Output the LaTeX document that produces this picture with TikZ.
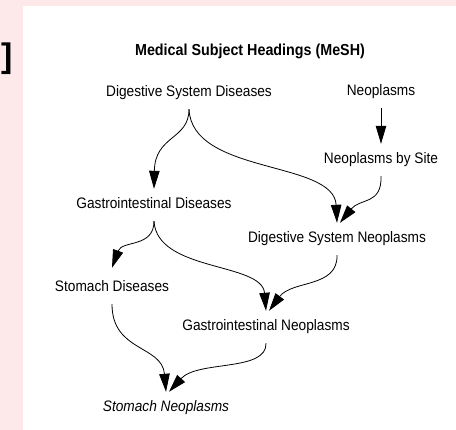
\documentclass[tikz,border=0pt]{standalone}
\usepackage{fontspec}
\setmainfont{Liberation Sans}[FakeStretch=0.9]
\newfontfamily\bracketfont{Liberation Sans}
\usepackage{tikz}
\usetikzlibrary{arrows.meta}
\definecolor{pagepink}{RGB}{253,233,234}

\begin{document}
\begin{tikzpicture}[
      x=1pt, y=-1pt,
      every node/.style={font=\fontsize{15.2}{18}\selectfont},
      term/.style={text height=11pt, text depth=3pt, inner xsep=0pt, inner ysep=9pt},
      heading/.style={font=\fontsize{15.9}{18}\selectfont\bfseries, anchor=base, inner sep=0pt},
      link/.style={draw, line width=0.8pt, -{Triangle[length=18pt, width=10.5pt]}}
    ]
    % Page: pink margin, white sheet
    \fill[pagepink] (0,0) rectangle (456,430);
    \fill[white] (23,6) rectangle (456,430);
    \useasboundingbox (0,0) rectangle (456,430);
    \node[inner sep=0pt, anchor=base west, font=\bracketfont\fontsize{34}{34}\selectfont\bfseries] (brk) at (1,68) {]};

    % Title
    \node[heading] (title) at (250,56) {Medical Subject Headings (MeSH)};

    % Headings
    \node[term] (dsd) at (189,93)  {Digestive System Diseases};
    \node[term] (neo) at (381,92)  {Neoplasms};
    \node[term] (nbs) at (381,160) {Neoplasms by Site};
    \node[term] (gd)  at (154,205) {Gastrointestinal Diseases};
    \node[term] (dsn) at (337,239) {Digestive System Neoplasms};
    \node[term] (sd)  at (112,288) {Stomach Diseases};
    \node[term] (gn)  at (266,327) {Gastrointestinal Neoplasms};
    \node[term] (sn)  at (166,408) {\itshape Stomach Neoplasms};

    % Links
    \draw[link] (dsd.south) .. controls (189,140) and (155,135) .. (gd.north);
    \draw[link] (dsd.south) .. controls (192,175) and (334,160) .. (dsn.north);
    \draw[link] (neo.south) -- (nbs.north);
    \draw[link] (nbs.south) .. controls (382,205) and (360,198) .. ([xshift=3pt]dsn.north);
    \draw[link] (gd.south) .. controls (154,248) and (122,240) .. ([yshift=4pt]sd.north);
    \draw[link] (gd.south) .. controls (157,272) and (262,262) .. (gn.north);
    \draw[link] (dsn.south) .. controls (338,288) and (292,280) .. ([xshift=3pt]gn.north);
    \draw[link] (sd.south) .. controls (112,352) and (162,345) .. (sn.north);
    \draw[link] (gn.south) .. controls (267,372) and (198,360) .. ([xshift=3pt]sn.north);
  \end{tikzpicture}
\end{document}
